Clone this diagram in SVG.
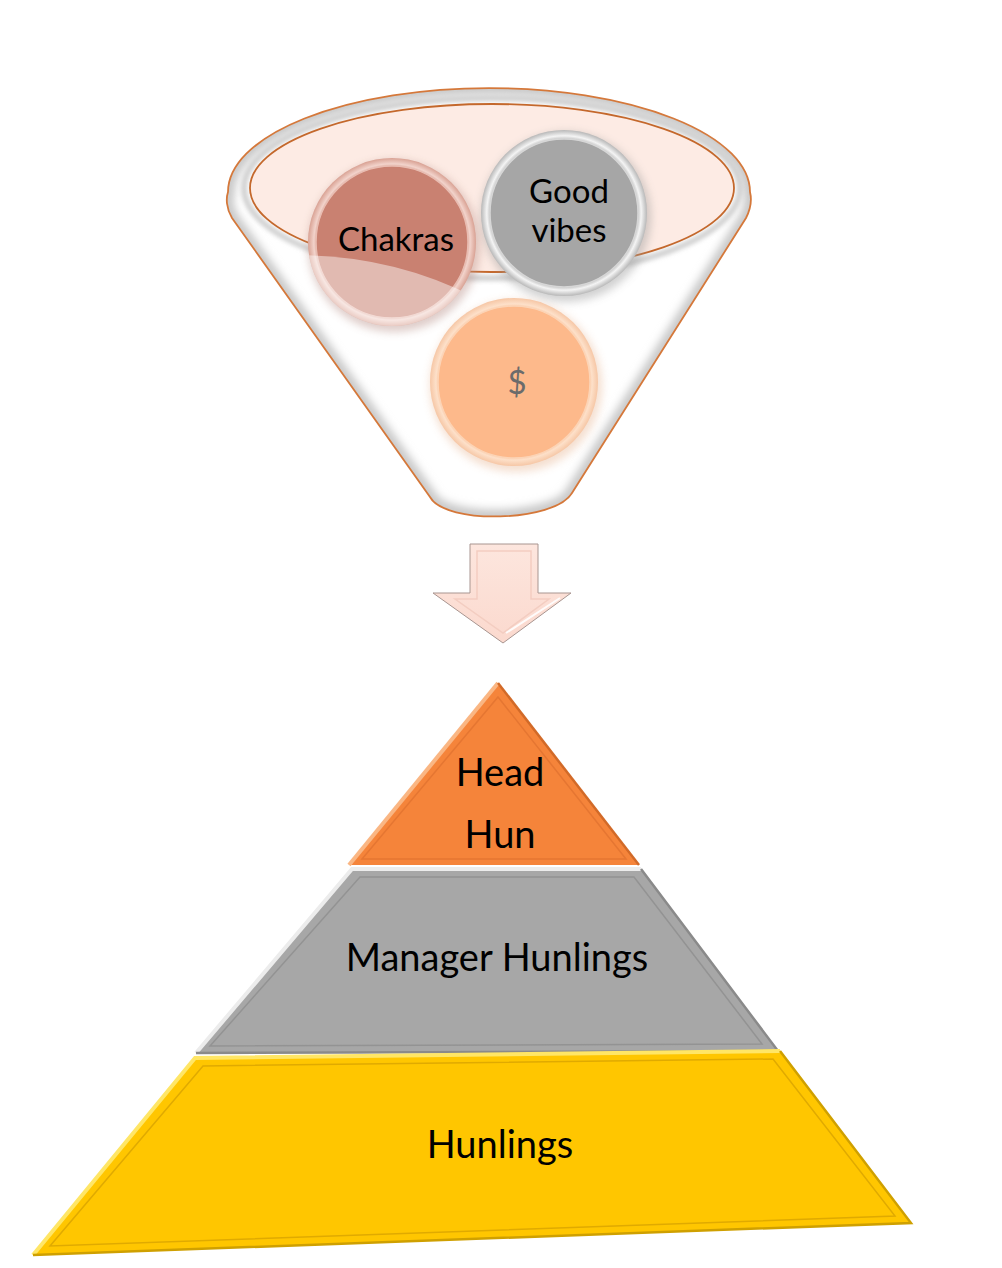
<svg xmlns="http://www.w3.org/2000/svg" width="1002" height="1268" viewBox="0 0 1002 1268">
<style>
  .lbl { font-family: Lato, "Open Sans", "Liberation Sans", sans-serif; fill: #000; text-anchor: middle; }
  .c-txt { font-size: 33px; }
  .p-txt { font-size: 38px; }
</style>
<defs>
  <filter id="blur4" x="-20%" y="-20%" width="140%" height="140%"><feGaussianBlur stdDeviation="4"/></filter>
  <filter id="blur2" x="-20%" y="-20%" width="140%" height="140%"><feGaussianBlur stdDeviation="2"/></filter>
  <filter id="blur1" x="-10%" y="-10%" width="120%" height="120%"><feGaussianBlur stdDeviation="1"/></filter>
  <clipPath id="funnelClip">
    <path d="M232,218 C226,208 226,198 228,192 A261,104 0 0 1 750,192 C752,200 750,210 746,218 L572,493 C555,522 445,525 430,497 Z"/>
  </clipPath>
  <clipPath id="chakClip"><circle cx="392" cy="242" r="84"/></clipPath>
  <linearGradient id="arrowGrad" x1="0" y1="0" x2="0" y2="1">
    <stop offset="0" stop-color="#FDE6DE"/>
    <stop offset="1" stop-color="#FBD9CE"/>
  </linearGradient>
  <radialGradient id="grayRim" cx="0.5" cy="0.5" r="0.5">
    <stop offset="0.85" stop-color="#9a9a9a"/>
    <stop offset="0.93" stop-color="#f4f4f4"/>
    <stop offset="1" stop-color="#b8b8b8"/>
  </radialGradient>
  <radialGradient id="chakRim" cx="0.5" cy="0.5" r="0.5">
    <stop offset="0.85" stop-color="#C27A6A"/>
    <stop offset="0.93" stop-color="#F2D3CB"/>
    <stop offset="1" stop-color="#D9A294"/>
  </radialGradient>
  <radialGradient id="dolRim" cx="0.5" cy="0.5" r="0.5">
    <stop offset="0.85" stop-color="#F6B083"/>
    <stop offset="0.93" stop-color="#FDE0C9"/>
    <stop offset="1" stop-color="#F6C7A6"/>
  </radialGradient>
</defs>
<rect width="1002" height="1268" fill="#ffffff"/>

<g id="funnel">
  <path d="M232,218 C226,208 226,198 228,192 A261,104 0 0 1 750,192 C752,200 750,210 746,218 L572,493 C555,522 445,525 430,497 Z" fill="#ffffff"/>
  <g clip-path="url(#funnelClip)">
    <path d="M232,218 C226,208 226,198 228,192 A261,104 0 0 1 750,192 C752,200 750,210 746,218 L572,493 C555,522 445,525 430,497 Z" fill="none" stroke="#c8c8c8" stroke-width="14" filter="url(#blur4)"/>
  </g>
  <path d="M232,218 C226,208 226,198 228,192 A261,104 0 0 1 750,192 C752,200 750,210 746,218 L572,493 C555,522 445,525 430,497 Z" fill="none" stroke="#D5783A" stroke-width="1.8"/>
  <ellipse cx="492" cy="188" rx="248" ry="90" fill="none" stroke="#d0d0d0" stroke-width="6" filter="url(#blur2)"/>
  <ellipse cx="492" cy="188" rx="242" ry="84" fill="#FDEBE4" stroke="#C4682C" stroke-width="1.8"/>
</g>

<g id="node-chakras">
  <circle cx="394" cy="246" r="86" fill="#b89088" opacity="0.45" filter="url(#blur4)"/>
  <circle cx="392" cy="242" r="84" fill="url(#chakRim)"/>
  <circle cx="392" cy="242" r="76" fill="#C98171" stroke="#E9BDB2" stroke-width="1.5"/>
  <g clip-path="url(#chakClip)">
    <path d="M300,255 Q400,256 484,302 L484,340 L300,340 Z" fill="#ffffff" opacity="0.45"/>
  </g>
  <text class="lbl c-txt" x="396" y="251">Chakras</text>
</g>

<g id="node-goodvibes">
  <circle cx="566" cy="217" r="85" fill="#9a9a9a" opacity="0.45" filter="url(#blur4)"/>
  <circle cx="564" cy="213" r="83" fill="url(#grayRim)"/>
  <circle cx="564" cy="213" r="74" fill="#A6A6A6" stroke="#d6d6d6" stroke-width="1.5"/>
  <text class="lbl c-txt" x="569" y="203">Good</text>
  <text class="lbl c-txt" x="569" y="242">vibes</text>
</g>

<g id="node-dollar">
  <circle cx="516" cy="386" r="86" fill="#E8B896" opacity="0.45" filter="url(#blur4)"/>
  <circle cx="514" cy="382" r="84" fill="url(#dolRim)"/>
  <circle cx="514" cy="382" r="76" fill="#FDB98B" stroke="#FCD4B6" stroke-width="1.5"/>
  <text class="lbl c-txt" x="517" y="394" style="fill:#6b6b6b">$</text>
</g>

<g id="connectors">
  <polygon points="470,544 538,544 538,593 571,593 503,643 433,593 470,593" fill="url(#arrowGrad)" stroke="#a89590" stroke-width="1"/>
  <polygon points="477,551 531,551 531,599 549,599 503,633 455,599 477,599" fill="none" stroke="#F3CDC1" stroke-width="1.5"/>
  <line x1="506" y1="633" x2="560" y2="598" stroke="#ffffff" stroke-width="2" opacity="0.9"/>
</g>

<g id="level-head">
  <polygon points="498,683 639,865 349,865" fill="#F5843A"/>
  <polyline points="349,865 498,683" fill="none" stroke="#FAB683" stroke-width="4"/>
  <polyline points="498,683 639,865" fill="none" stroke="#D26A28" stroke-width="2.5"/>
  <polygon points="498,697 626,859 362,859" fill="none" stroke="#E57632" stroke-width="1.5"/>
  <text class="lbl p-txt" x="500" y="786">Head</text>
  <text class="lbl p-txt" x="500" y="848">Hun</text>
</g>

<g id="level-manager">
  <polygon points="352,869 641,869 778,1051 196,1053" fill="#A7A7A7"/>
  <polyline points="196,1053 352,869 641,869" fill="none" stroke="#ececec" stroke-width="4"/>
  <polyline points="641,869 778,1051 196,1053" fill="none" stroke="#8a8a8a" stroke-width="2.5"/>
  <polygon points="360,877 634,877 762,1044 210,1046" fill="none" stroke="#939393" stroke-width="1.5"/>
  <text class="lbl p-txt" x="497" y="971">Manager Hunlings</text>
</g>

<g id="level-hunlings">
  <polygon points="195,1058 780,1051 911,1223 33,1255" fill="#FFC600"/>
  <polyline points="33,1255 195,1058 780,1051" fill="none" stroke="#FFE666" stroke-width="4"/>
  <polyline points="780,1051 911,1223 33,1255" fill="none" stroke="#CFA000" stroke-width="2.5"/>
  <polygon points="203,1066 773,1059 895,1216 50,1246" fill="none" stroke="#E0AA00" stroke-width="1.5"/>
  <text class="lbl p-txt" x="500" y="1158">Hunlings</text>
</g>
</svg>
